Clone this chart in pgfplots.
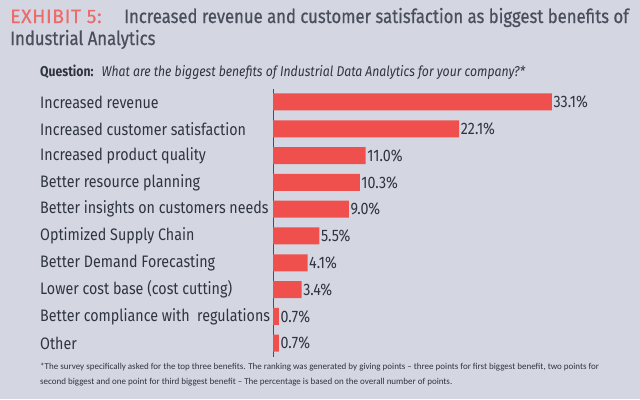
\documentclass[border=0pt]{standalone}
\usepackage{fontspec}
\setmainfont{Fira Sans}[FakeStretch=0.86]
\newfontfamily\titlefont{Fira Sans}[FakeStretch=0.86,FakeBold=0.6]
\newfontfamily\exhfont{Fira Sans}[FakeBold=0.6,LetterSpace=3]
\newfontfamily\notefont{Carlito}
\usepackage{pgfplots}
\pgfplotsset{compat=1.18}
\definecolor{bg}{HTML}{D4D7E1}
\definecolor{barred}{HTML}{F0504D}
\definecolor{txt}{HTML}{2F3442}
\definecolor{ttl}{HTML}{4A4F5E}
\definecolor{exh}{HTML}{EC6C6E}
\begin{document}
\begin{tikzpicture}[x=1bp,y=1bp]
\fill[bg] (0,0) rectangle (640,399);
\node[anchor=base west, inner sep=0pt, font=\exhfont\fontsize{19.4bp}{22bp}\selectfont, text=exh] at (10,399-23) {EXHIBIT 5:};
\node[anchor=base west, inner sep=0pt, font=\titlefont\fontsize{19.4bp}{22bp}\selectfont, text=ttl] at (124,399-23) {Increased revenue and customer satisfaction as biggest benefits of};
\node[anchor=base west, inner sep=0pt, font=\titlefont\fontsize{19.4bp}{22bp}\selectfont, text=ttl] at (10,399-45) {Industrial Analytics};
\node[anchor=base west, inner sep=0pt, font=\fontsize{14.2bp}{15bp}\selectfont, text=txt] at (40,399-76) {\textbf{Question:}\hspace{8bp}\itshape What are the biggest benefits of Industrial Data Analytics for your company?*};
\begin{axis}[
  at={(273bp,42.4bp)}, anchor=south west,
  scale only axis, width=337bp, height=268bp,
  xmin=0, xmax=40, ymin=-0.5, ymax=9.5,
  xbar, bar width=17bp,
  axis x line=none,
  axis y line*=left,
  y axis line style={-, draw=ttl, line width=0.6pt},
  ytick={0,...,9}, major tick length=0pt,
  yticklabels={Other, Better compliance with\ \ regulations, Lower cost base (cost cutting), Better Demand Forecasting, Optimized Supply Chain, Better insights on customers needs, Better resource planning, Increased product quality, Increased customer satisfaction, Increased revenue},
  yticklabel style={anchor=west, xshift=-233bp, inner sep=0pt, text=txt, font=\fontsize{16.6bp}{18bp}\selectfont},
  /pgf/number format/assume math mode=true,
  nodes near coords={\pgfmathprintnumber[fixed,fixed zerofill,precision=1,assume math mode=true]{\pgfplotspointmeta}\%},
  nodes near coords style={anchor=west, inner sep=1.5bp, text=txt, font=\fontsize{16.6bp}{18bp}\selectfont},
  point meta=explicit,
  clip=false,
]
\addplot[fill=barred, draw=none] coordinates {
(0.7,0) [0.7] (0.7,1) [0.7] (3.4,2) [3.4] (4.1,3) [4.1] (5.5,4) [5.5] (9.0,5) [9.0] (10.3,6) [10.3] (11.0,7) [11.0] (22.1,8) [22.1] (33.1,9) [33.1]};
\end{axis}
\node[anchor=base west, inner sep=0pt, font=\notefont\fontsize{9.0bp}{11bp}\selectfont, text=txt] at (40,399-369) {*The survey specifically asked for the top three benefits. The ranking was generated by giving points – three points for first biggest benefit, two points for};
\node[anchor=base west, inner sep=0pt, font=\notefont\fontsize{9.0bp}{11bp}\selectfont, text=txt] at (40,399-384) {second biggest and one point for third biggest benefit – The percentage is based on the overall number of points.};
\end{tikzpicture}
\end{document}
